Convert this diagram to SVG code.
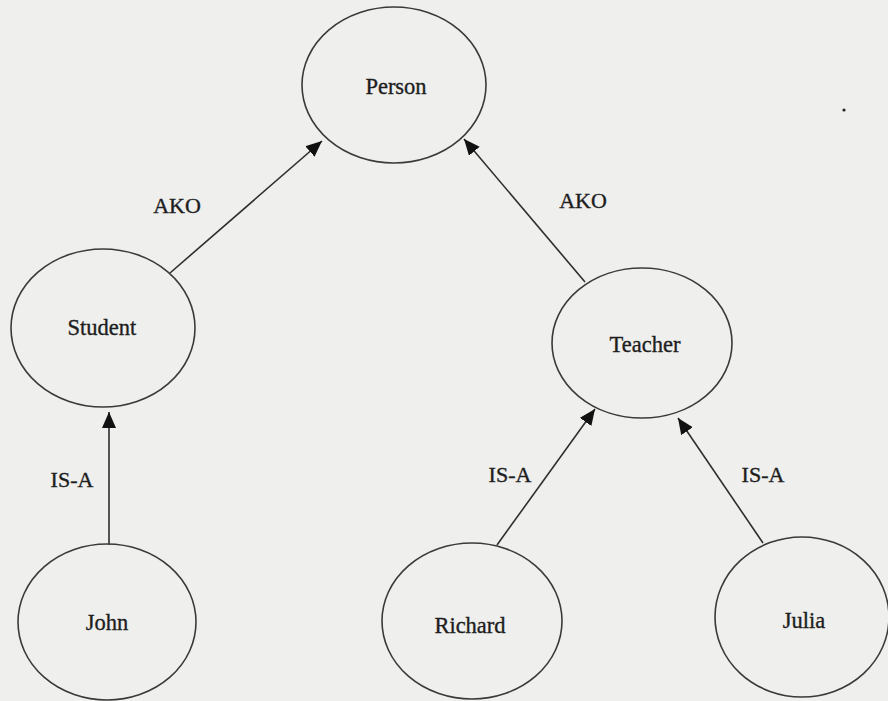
<svg xmlns="http://www.w3.org/2000/svg" width="888" height="701" viewBox="0 0 888 701">
<style>
.node ellipse{fill:none;stroke:#3a3a3a;stroke-width:1.6}
text{font-family:"Liberation Serif","Times New Roman",serif;font-size:22.5px;fill:#1e1e1e;stroke:#1e1e1e;stroke-width:0.35;text-anchor:middle}
.lbl{font-size:22px}
.edges line{stroke:#2e2e2e;stroke-width:1.6;marker-end:url(#arr)}
</style>
<defs>
<marker id="arr" markerUnits="userSpaceOnUse" markerWidth="18" markerHeight="15" refX="16" refY="7" orient="auto">
<path d="M0,0 L16,7 L0,14 z" fill="#111"/>
</marker>
</defs>
<rect width="888" height="701" fill="#efefed"/>
<g class="edges">
<line x1="170" y1="273" x2="322" y2="141"/>
<line x1="585" y1="282" x2="464" y2="139"/>
<line x1="109" y1="545" x2="109" y2="412"/>
<line x1="497" y1="545" x2="595" y2="409"/>
<line x1="763" y1="543" x2="678" y2="418"/>
<text class="lbl" x="177" y="213">AKO</text>
<text class="lbl" x="583" y="208">AKO</text>
<text class="lbl" x="72" y="487">IS-A</text>
<text class="lbl" x="510" y="482">IS-A</text>
<text class="lbl" x="763" y="482">IS-A</text>
</g>
<g id="person" class="node"><ellipse cx="394" cy="85" rx="92" ry="78"/><text x="396" y="94">Person</text></g>
<g id="student" class="node"><ellipse cx="103" cy="328" rx="92" ry="79"/><text x="102" y="335">Student</text></g>
<g id="teacher" class="node"><ellipse cx="642" cy="343" rx="90" ry="75"/><text x="645" y="352">Teacher</text></g>
<g id="john" class="node"><ellipse cx="107" cy="622" rx="89" ry="78"/><text x="107" y="630">John</text></g>
<g id="richard" class="node"><ellipse cx="472" cy="621" rx="90" ry="78"/><text x="470" y="633">Richard</text></g>
<g id="julia" class="node"><ellipse cx="802" cy="617" rx="87" ry="80"/><text x="804" y="628">Julia</text></g>
<circle cx="844" cy="110" r="1.6" fill="#222"/>
</svg>
